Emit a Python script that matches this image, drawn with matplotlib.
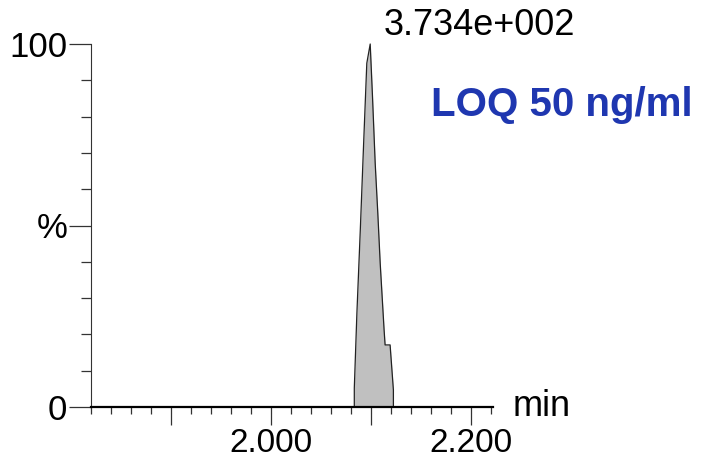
"""
LC-MS chromatogram: LOQ 50 ng/ml
"""
import numpy as np
import matplotlib.pyplot as plt
import matplotlib

matplotlib.rcParams['font.family'] = ['Liberation Sans', 'DejaVu Sans']
matplotlib.rcParams['font.size'] = 24

# peak trace (retention time in min, relative intensity in %)
peak_time = [2.0833, 2.0833, 2.0859, 2.0893, 2.0925, 2.0958, 2.0992,
             2.1015, 2.1042, 2.1068, 2.1092, 2.1131, 2.1141, 2.1191,
             2.1224, 2.1224]
peak_intensity = [0, 5.2, 25.9, 48.8, 71.7, 94.7, 100,
                  85.5, 67.1, 53.4, 39.6, 21.2, 17.1, 17.1,
                  4.7, 0]

x_major = [1.9, 2.0, 2.1, 2.2]
x_major_labels = ['', '2.000', '', '2.200']
y_major = [0, 50, 100]
y_major_labels = ['0', '%', '100']
peak_label = '3.734e+002'
title_text = 'LOQ 50 ng/ml'

fig = plt.figure(figsize=(7.11, 4.62), dpi=100)
ax = fig.add_axes([91 / 711, 55 / 462, 402 / 711, 363 / 462])

ax.fill_between(peak_time, peak_intensity, 0, color='#c0c0c0', lw=0, clip_on=False)
ax.plot(peak_time, peak_intensity, color='#222222', lw=0.9, clip_on=False)

ax.set_xlim(1.82, 2.222)
ax.set_ylim(0, 100)

for s in ['top', 'right']:
    ax.spines[s].set_visible(False)
ax.spines['bottom'].set_linewidth(1.6)
ax.spines['left'].set_linewidth(0.8)
ax.spines['left'].set_color('#333333')

ax.set_xticks(x_major)
ax.set_xticklabels(x_major_labels)
ax.set_xticks(np.arange(1.82, 2.225, 0.02), minor=True)
ax.set_yticks(y_major)
ax.set_yticklabels(y_major_labels, fontsize=25)
ax.set_yticks(np.arange(0, 101, 10), minor=True)

ax.tick_params(axis='x', which='major', length=13, width=0.9, color='#333333', pad=2)
ax.tick_params(axis='x', which='minor', length=5, width=0.9, color='#333333')
ax.tick_params(axis='y', which='major', length=16, width=0.9, color='#333333', pad=1)
ax.tick_params(axis='y', which='minor', length=7, width=0.9, color='#333333')

ax.text(2.2418, 0, 'min', ha='left', va='center', fontsize=26, clip_on=False)
ax.text(2.1124, 105.2, peak_label, ha='left', va='center', fontsize=26, clip_on=False)
ax.text(2.160, 83.2, title_text, ha='left', va='center', fontsize=29,
        fontweight='bold', color='#1f37b0', clip_on=False)

plt.savefig('out.png', dpi=100)
plt.close()
